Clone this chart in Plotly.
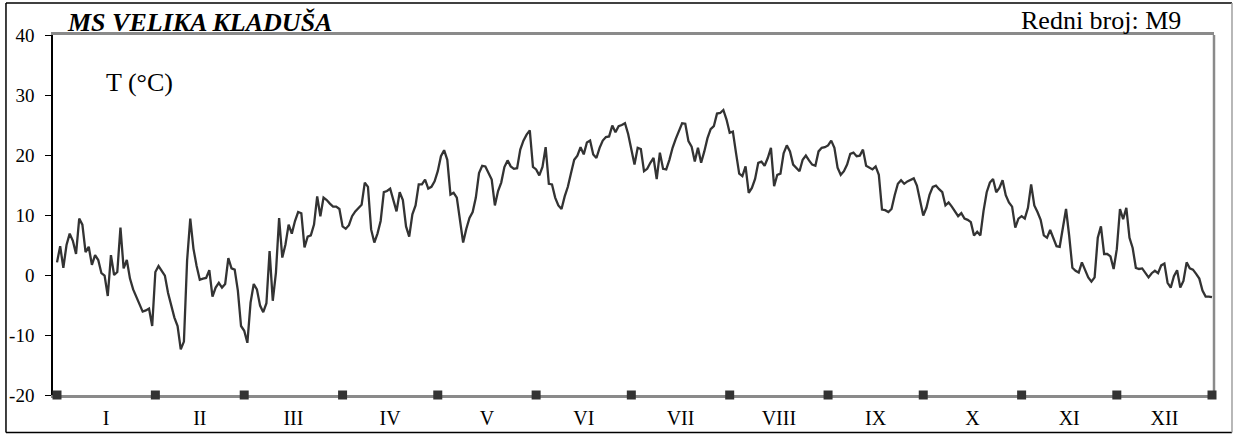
import plotly.graph_objects as go

# Daily mean air temperature (°C), one list per month
jan = [2.1, 4.8, 1.2, 5.0, 6.9, 5.7, 3.5, 9.4, 8.4, 3.8, 4.7, 1.7, 3.3, 2.5, 0.3, -0.1, -3.5, 3.3, 0.0, 0.5,
       7.9, 1.1, 2.5, -0.6, -2.4, -3.6, -4.8, -6.1, -5.9, -5.6, -8.5]
feb = [0.5, 1.5, 0.6, -0.1, -3.0, -5.0, -7.1, -8.5, -12.4, -11.1, 2.4, 9.4, 4.4, 1.5, -0.8, -0.6, -0.5, 0.8,
       -3.6, -2.1, -1.3, -2.1, -1.5, 2.8, 1.1, 0.9, -2.6, -8.5]
mar = [-9.3, -11.3, -4.6, -1.5, -2.4, -5.1, -6.2, -4.7, 4.0, -4.3, 0.4, 9.5, 2.9, 5.1, 8.4, 6.9, 9.0, 10.5,
       10.3, 4.6, 6.4, 6.6, 8.4, 13.1, 9.8, 12.9, 12.5, 11.9, 11.4, 11.4, 11.0]
apr = [8.1, 7.7, 8.3, 9.8, 10.6, 11.2, 11.7, 15.4, 14.7, 7.6, 5.4, 6.9, 9.0, 13.8, 14.0, 14.4, 12.3, 10.6,
       13.8, 12.5, 8.1, 6.4, 10.1, 11.6, 15.1, 15.1, 15.9, 14.4, 14.7, 15.6]
may = [17.3, 19.8, 20.8, 19.2, 13.4, 13.7, 12.9, 9.0, 5.4, 7.7, 9.5, 10.5, 12.9, 17.0, 18.2, 18.1, 17.1, 15.9,
       11.6, 14.0, 15.4, 18.0, 19.1, 18.1, 17.7, 17.8, 20.9, 22.4, 23.4, 24.1, 18.0]
jun = [17.6, 16.6, 18.0, 21.3, 15.2, 15.1, 12.9, 11.6, 11.0, 13.1, 14.7, 17.0, 19.2, 19.9, 21.3, 20.1, 22.1,
       22.4, 20.1, 19.5, 21.2, 22.4, 23.0, 23.1, 24.9, 23.8, 24.8, 25.0, 25.3, 23.5]
jul = [20.6, 18.4, 21.2, 21.0, 17.3, 17.7, 18.7, 19.5, 16.0, 20.4, 17.7, 17.6, 19.2, 21.2, 22.7, 24.1, 25.3,
       25.2, 22.3, 21.4, 18.9, 21.2, 18.7, 20.6, 22.8, 24.3, 24.8, 26.9, 27.0, 27.5, 25.9]
aug = [23.7, 23.9, 20.3, 16.9, 16.5, 18.1, 13.7, 14.5, 16.0, 18.7, 18.9, 18.2, 19.5, 21.2, 14.8, 16.7, 16.9,
       20.3, 21.6, 20.6, 18.4, 17.9, 17.3, 19.2, 19.9, 19.1, 18.4, 18.2, 20.6, 21.2, 21.3]
sep = [21.6, 22.4, 21.2, 17.9, 16.7, 17.3, 18.4, 20.2, 20.4, 19.8, 19.9, 20.9, 18.2, 17.9, 17.6, 18.1, 16.7,
       10.9, 10.8, 10.5, 11.0, 13.3, 15.2, 15.8, 15.2, 15.6, 15.9, 16.1, 14.9, 12.6]
oct_ = [9.9, 11.2, 13.4, 14.7, 14.9, 14.3, 13.8, 11.6, 12.1, 11.4, 10.7, 9.8, 10.3, 9.4, 9.2, 8.8, 6.6, 7.2,
        6.6, 10.7, 13.8, 15.4, 16.0, 13.8, 14.5, 15.8, 13.3, 12.1, 11.4, 7.9, 9.4]
nov = [9.8, 9.4, 11.2, 15.1, 11.6, 10.5, 9.2, 6.6, 6.2, 7.5, 6.2, 4.8, 4.7, 7.9, 11.0, 6.5, 1.2, 0.7, 0.4,
       2.1, 0.9, -0.4, -1.1, -0.4, 6.2, 8.1, 3.5, 3.5, 3.1, 1.0]
dec = [4.3, 11.0, 9.3, 11.2, 6.2, 4.5, 1.2, 1.0, 1.1, 0.3, -0.4, 0.3, 0.7, 0.3, 1.6, 1.9, -1.3, -2.1, -0.2,
       0.8, -2.1, -1.0, 2.1, 1.1, 0.9, 0.2, -0.6, -2.6, -3.6, -3.6, -3.7]

months = [jan, feb, mar, apr, may, jun, jul, aug, sep, oct_, nov, dec]
month_labels = ["I", "II", "III", "IV", "V", "VI", "VII", "VIII", "IX", "X", "XI", "XII"]
y_ticks = [-20, -10, 0, 10, 20, 30, 40]

title_text = "MS VELIKA KLADUŠA"
number_text = "Redni broj: M9"
unit_text = "T (°C)"

# ---- build series ----
temps = [v for m in months for v in m]
days = list(range(len(temps)))

bounds = [0]
for m in months:
    bounds.append(bounds[-1] + len(m))
bounds[-1] = len(temps) - 1
mids = [(bounds[i] + bounds[i + 1]) / 2 for i in range(12)]

FONT = "Liberation Serif"
GRAY = "#8a8a8a"

fig = go.Figure()
fig.add_trace(go.Scatter(
    x=days, y=temps, mode="lines",
    line=dict(color="#333333", width=2.3),
    hoverinfo="skip", showlegend=False,
))
fig.add_trace(go.Scatter(
    x=bounds, y=[y_ticks[0]] * len(bounds), mode="markers",
    marker=dict(symbol="square", size=9, color="#333333", line=dict(width=0)),
    cliponaxis=False, hoverinfo="skip", showlegend=False,
))

fig.update_layout(
    width=1234, height=434,
    margin=dict(l=53, r=20, t=35, b=39, autoexpand=False),
    paper_bgcolor="white", plot_bgcolor="white",
    showlegend=False,
    xaxis=dict(
        range=[-1.26, len(temps) - 1 + 0.63],
        automargin=False, layer="below traces",
        showgrid=False, zeroline=False,
        showline=True, linecolor=GRAY, linewidth=2.5, mirror=True,
        tickmode="array", tickvals=mids, ticktext=month_labels,
        ticks="", ticklabelstandoff=3,
        tickfont=dict(family=FONT, size=20, color="black"),
    ),
    yaxis=dict(
        range=[y_ticks[0], y_ticks[-1]],
        automargin=False, layer="below traces",
        tickmode="array", tickvals=y_ticks, ticktext=[str(v) for v in y_ticks],
        showgrid=False, zeroline=False,
        showline=True, linecolor="black", linewidth=1.5,
        ticks="outside", ticklen=6, tickcolor="black", tickwidth=1.2,
        ticklabelstandoff=7,
        tickfont=dict(family=FONT, size=19, color="black"),
    ),
    shapes=[
        # right border of plot area
        dict(type="line", xref="paper", yref="paper", x0=1, x1=1, y0=0, y1=1,
             line=dict(color=GRAY, width=2.5), layer="below"),
        # outer frame
        dict(type="line", xref="paper", yref="paper", x0=-0.0405, x1=1.0155, y0=1.0889, y1=1.0889,
             line=dict(color="black", width=1.5)),
        dict(type="line", xref="paper", yref="paper", x0=-0.0405, x1=1.0155, y0=-0.1042, y1=-0.1042,
             line=dict(color="black", width=1.5)),
        dict(type="line", xref="paper", yref="paper", x0=-0.0405, x1=-0.0405, y0=-0.1042, y1=1.0889,
             line=dict(color="black", width=1.5)),
        dict(type="line", xref="paper", yref="paper", x0=1.0155, x1=1.0155, y0=-0.1042, y1=1.0889,
             line=dict(color="#a0a0a0", width=1.5)),
    ],
    annotations=[
        dict(text="<b><i>" + title_text + "</i></b>", xref="paper", yref="paper",
             x=0.0103, y=1.036, xanchor="left", yanchor="middle", showarrow=False,
             font=dict(family=FONT, size=26, color="black")),
        dict(text=number_text, xref="paper", yref="paper",
             x=0.9027, y=1.040, xanchor="center", yanchor="middle", showarrow=False,
             font=dict(family=FONT, size=26, color="black")),
        dict(text=unit_text, xref="paper", yref="paper",
             x=0.0741, y=0.8667, xanchor="center", yanchor="middle", showarrow=False,
             font=dict(family=FONT, size=26, color="black")),
    ],
)

fig.write_html(
    "out.html",
    config={"displayModeBar": False},
    post_script="document.body.style.margin='0';document.body.style.overflow='hidden';",
)
